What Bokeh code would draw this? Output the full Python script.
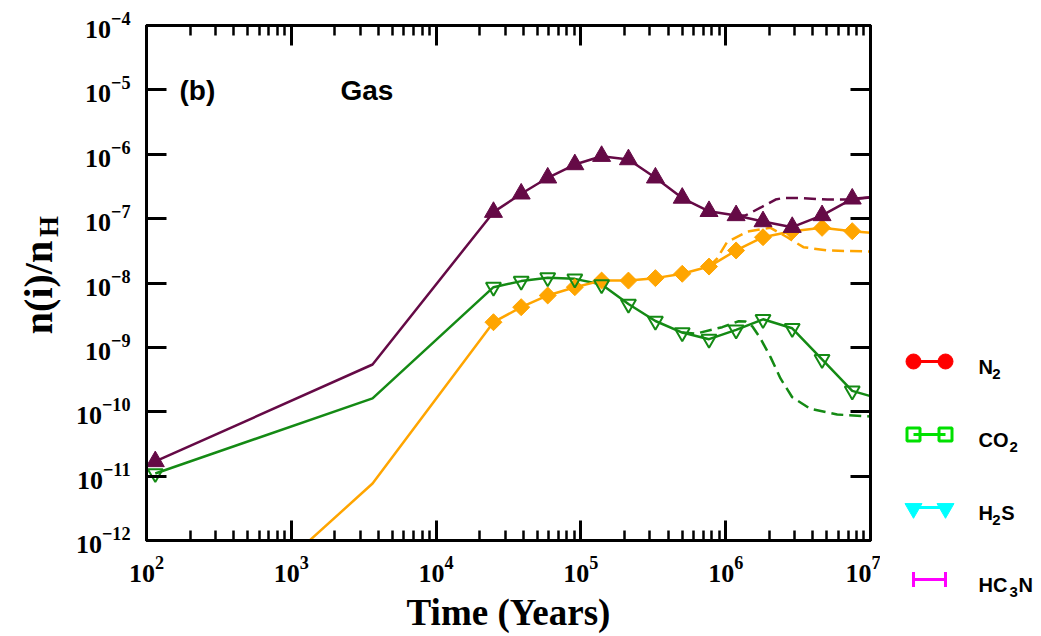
import numpy as np
from bokeh.plotting import figure
from bokeh.models import LogAxis, FixedTicker, Label, Range1d
from bokeh.layouts import row
from bokeh.embed import file_html
from bokeh.resources import INLINE
from bokeh.core.properties import value

# ---------------- data ----------------
time_yr = [1.15e2, 3.64e3, 2.49e4, 3.87e4, 5.90e4, 9.08e4, 1.39e5, 2.13e5, 3.27e5,
           5.01e5, 7.67e5, 1.18e6, 1.81e6, 2.88e6, 4.63e6, 7.48e6, 1.0e7]
has_marker = [1, 0, 1, 1, 1, 1, 1, 1, 1, 1, 1, 1, 1, 1, 1, 1, 0]

purple_n = [1.69e-11, 5.42e-10, 1.26e-7, 2.43e-7, 4.31e-7, 6.93e-7, 9.33e-7, 8.28e-7, 4.31e-7,
            2.09e-7, 1.30e-7, 1.12e-7, 9.02e-8, 7.36e-8, 1.12e-7, 2.03e-7, 2.15e-7]
green_n = [1.10e-11, 1.61e-10, 8.61e-9, 1.07e-8, 1.21e-8, 1.16e-8, 9.48e-9, 4.72e-9, 2.57e-9,
           1.70e-9, 1.34e-9, 1.87e-9, 2.73e-9, 1.98e-9, 6.53e-10, 2.11e-10, 1.75e-10]
orange_n = [6.8e-15, 7.67e-12, 2.46e-9, 4.21e-9, 6.40e-9, 8.61e-9, 1.09e-8, 1.09e-8, 1.19e-8,
            1.39e-8, 1.80e-8, 3.20e-8, 5.14e-8, 6.38e-8, 7.19e-8, 6.38e-8, 6.03e-8]

purple_dash_t = [1.18e6, 1.37e6, 1.75e6, 2.21e6, 2.51e6, 3.29e6, 5.05e6, 7.28e6, 1.0e7]
purple_dash_n = [1.12e-7, 1.12e-7, 1.49e-7, 1.98e-7, 2.10e-7, 2.09e-7, 1.98e-7, 1.98e-7, 2.13e-7]

orange_dash_t = [7.67e5, 8.71e5, 1.02e6, 1.41e6, 2.04e6, 2.66e6, 3.44e6, 5.02e6, 1.0e7]
orange_dash_n = [1.80e-8, 2.40e-8, 4.30e-8, 6.31e-8, 7.19e-8, 5.14e-8, 3.60e-8, 3.20e-8, 3.08e-8]

green_dash_t = [5.01e5, 6.19e5, 9.46e5, 1.23e6, 1.37e6, 1.53e6, 1.74e6, 2.04e6, 2.39e6,
                2.88e6, 3.85e6, 5.89e6, 1.0e7]
green_dash_n = [1.70e-9, 1.63e-9, 2.06e-9, 2.55e-9, 2.52e-9, 2.11e-9, 1.37e-9, 7.05e-10,
                3.29e-10, 1.68e-10, 1.11e-10, 9.06e-11, 8.43e-11]

x_ticks = [1e2, 1e3, 1e4, 1e5, 1e6, 1e7]
y_ticks = [1e-12, 1e-11, 1e-10, 1e-9, 1e-8, 1e-7, 1e-6, 1e-5, 1e-4]

legend_labels = [[("N", 0, False), ("2", 13.7, True)],
                 [("CO", 0, False), ("2", 31, True)],
                 [("H", 0, False), ("2", 13.7, True), ("S", 22.7, False)],
                 [("HC", 0, False), ("3", 31, True), ("N", 40, False)]]
legend_colors = ["#FF0000", "#00E000", "#00FFFF", "#FF00FF"]
legend_markers = ["circle", "square", "inverted_triangle", "dash"]

PURPLE = "#650A46"
GREEN = "#148A14"
ORANGE = "#FFA500"

H = 636
FL, FR, FT, FB = 146, 870, 25, 540
LFW = 70            # left panel holding the y title
W = 880             # right edge of main figure
LW = 1041 - W       # legend panel


def free_frame(fig):
    try:
        fig.frame_align = False
    except Exception:
        pass


# ---------------- main figure ----------------
p = figure(width=W - LFW, height=H, x_axis_type="log", y_axis_type="log",
           x_range=Range1d(1e2, 1e7), y_range=Range1d(1e-12, 1e-4),
           output_backend="svg", toolbar_location=None,
           min_border_left=FL - LFW, min_border_right=W - FR, min_border_top=FT,
           min_border_bottom=H - FB)
p.grid.visible = False
p.outline_line_color = "black"
p.outline_line_width = 3
p.background_fill_color = "white"
p.border_fill_color = "white"

x_minor = [m * 10.0 ** d for d in range(2, 7) for m in range(2, 10)]


def style_axis(ax, ticks, minor, labels=True):
    ax.ticker = FixedTicker(ticks=ticks, minor_ticks=minor)
    ax.axis_line_width = 3
    ax.axis_line_color = "black"
    ax.major_tick_in = 20
    ax.major_tick_out = 0
    ax.major_tick_line_width = 3
    ax.minor_tick_in = 10
    ax.minor_tick_out = 0
    ax.minor_tick_line_width = 2.5
    if not minor:
        ax.minor_tick_line_color = None
    if labels:
        ax.major_label_text_font = "Liberation Serif"
        ax.major_label_text_font_style = "bold"
        ax.major_label_text_font_size = "26px"
        ax.major_label_text_color = "black"
    else:
        ax.major_label_text_font_size = "1px"
        ax.major_label_text_color = None
        ax.major_label_standoff = 0


xa = p.xaxis[0]
style_axis(xa, x_ticks, x_minor)
xa.major_label_standoff = 16
xa.axis_label = "Time (Years)"
xa.axis_label_text_font = "Liberation Serif"
xa.axis_label_text_font_style = "bold"
xa.axis_label_text_font_size = "37px"
xa.axis_label_text_color = "black"
xa.axis_label_standoff = 7

ya = p.yaxis[0]
style_axis(ya, y_ticks, [])
ya.major_label_standoff = 16

top = LogAxis()
style_axis(top, x_ticks, x_minor, labels=False)
p.add_layout(top, "above")
right = LogAxis()
style_axis(right, y_ticks, [], labels=False)
p.add_layout(right, "right")

t_arr = np.array(time_yr)
mask = np.array(has_marker, dtype=bool)

# dashed companions
p.line(purple_dash_t, purple_dash_n, line_color=PURPLE, line_width=2.5, line_dash="12 6")
p.line(orange_dash_t, orange_dash_n, line_color=ORANGE, line_width=2.5, line_dash="12 6")
p.line(green_dash_t, green_dash_n, line_color=GREEN, line_width=2.5, line_dash="12 6")

# solid curves
p.line(time_yr, purple_n, line_color=PURPLE, line_width=2.5)
p.line(time_yr, green_n, line_color=GREEN, line_width=2.5)
p.line(time_yr, orange_n, line_color=ORANGE, line_width=2.5)

p.scatter(t_arr[mask], np.array(orange_n)[mask], marker="square", angle=np.pi / 4, size=12,
          fill_color=ORANGE, line_color=ORANGE)
p.scatter(t_arr[mask], np.array(green_n)[mask], marker="inverted_triangle", size=15,
          fill_color=None, line_color=GREEN, line_width=2)
p.scatter(t_arr[mask], np.array(purple_n)[mask], marker="triangle", size=18,
          fill_color=PURPLE, line_color=PURPLE)


def px2x(px):
    return 10 ** (2 + (px - FL) * 5.0 / (FR - FL))


def px2y(py):
    return 10 ** (-4 - (py - FT) * 8.0 / (FB - FT))


for txt, px in [("(b)", 179), ("Gas", 340)]:
    p.add_layout(Label(x=px2x(px), y=px2y(90), text=txt, text_font="Liberation Sans",
                       text_font_style="bold", text_font_size="28px", text_color="black",
                       text_align="left", text_baseline="alphabetic"))

# ---------------- left panel: y title ----------------
lf = figure(width=LFW, height=H, x_range=Range1d(0, LFW), y_range=Range1d(H, 0),
            output_backend="svg", toolbar_location=None,
            min_border_left=0, min_border_right=0, min_border_top=0, min_border_bottom=0)
free_frame(lf)
lf.axis.visible = False
lf.grid.visible = False
lf.outline_line_color = None
lf.background_fill_color = "white"
lf.border_fill_color = "white"
lf.text(x=[38], y=[287], text=["n(i)/n"], angle=np.pi / 2,
        text_font=value("Liberation Serif"), text_font_style="bold", text_font_size="40px",
        text_color="black", text_align="center", text_baseline="middle")
lf.text(x=[48], y=[226], text=["H"], angle=np.pi / 2,
        text_font=value("Liberation Serif"), text_font_style="bold", text_font_size="27px",
        text_color="black", text_align="center", text_baseline="middle")

# ---------------- legend panel ----------------
q = figure(width=LW, height=H, x_range=Range1d(W, 1041), y_range=Range1d(H, 0),
           output_backend="svg", toolbar_location=None,
           min_border_left=0, min_border_right=0, min_border_top=0, min_border_bottom=0)
free_frame(q)
q.axis.visible = False
q.grid.visible = False
q.outline_line_color = None
q.background_fill_color = "white"
q.border_fill_color = "white"

rows_y = [361, 434, 507, 579]
lx0, lx1, tx = 913, 945, 978
q.segment(x0=[lx0] * 4, y0=rows_y, x1=[lx1] * 4, y1=rows_y, line_color=legend_colors, line_width=3)
for yy, col, mk in zip(rows_y, legend_colors, legend_markers):
    if mk == "circle":
        q.scatter([lx0, lx1], [yy, yy], marker="circle", size=15, fill_color=col, line_color=col)
    elif mk == "square":
        q.scatter([lx0, lx1], [yy, yy], marker="square", size=13, fill_color=None,
                  line_color=col, line_width=3)
    elif mk == "inverted_triangle":
        q.scatter([lx0, lx1], [yy + 1, yy + 1], marker="inverted_triangle", size=17,
                  fill_color=col, line_color=col)
    else:
        q.scatter([lx0, lx1], [yy, yy], marker="dash", angle=np.pi / 2, size=15,
                  line_color=col, line_width=3)

for yy, pieces in zip(rows_y, legend_labels):
    for txt, dx, sub in pieces:
        q.text(x=[tx + dx], y=[yy + 5 + (7 if sub else 0)], text=[txt],
               text_font=value("Liberation Sans"), text_font_style="bold",
               text_font_size="15px" if sub else "20px", text_color="black",
               text_align="left", text_baseline="alphabetic")

layout = row(lf, p, q)
open("out.html", "w").write(file_html(layout, INLINE))
